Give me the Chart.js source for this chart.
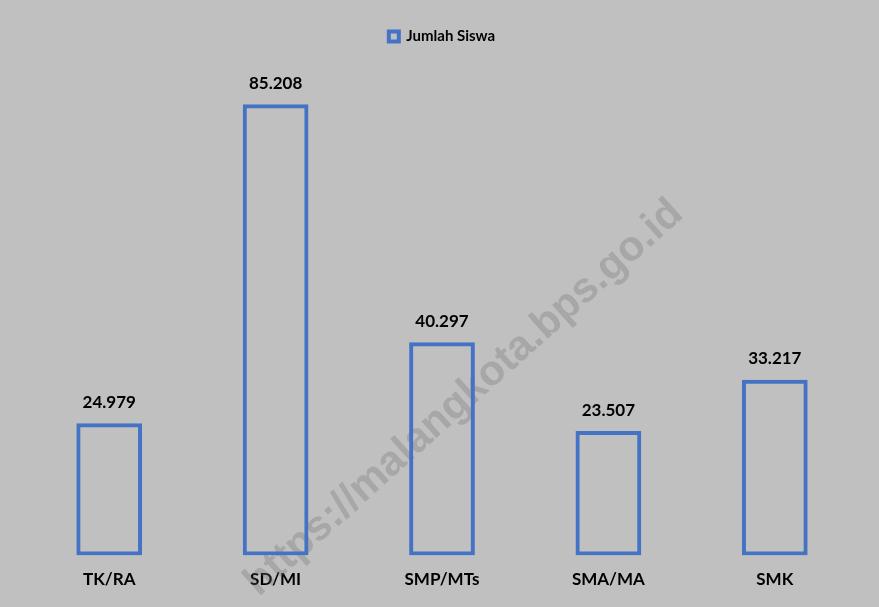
<!DOCTYPE html>
<html>
<head>
<meta charset="utf-8">
<script src="https://cdn.jsdelivr.net/npm/chart.js@4.4.0/dist/chart.umd.min.js"></script>
<style>
  html, body { margin: 0; padding: 0; background: #c0c0c0; }
  #wrap { width: 879px; height: 607px; position: relative; }
</style>
</head>
<body>
<div id="wrap"><canvas id="chart"></canvas></div>
<script>
// ── Data ──────────────────────────────────────────────────────────────────
const categories = ['TK/RA', 'SD/MI', 'SMP/MTs', 'SMA/MA', 'SMK'];
const siswa      = [24979, 85208, 40297, 23507, 33217];
const seriesName = 'Jumlah Siswa';

const BLUE = '#4472c4';
const FONT = 'Lato, "Open Sans", sans-serif';

// Thousands with a dot, Indonesian style
const fmt = v => v.toLocaleString('de-DE');

// Inline plugin: value labels above bars
const valueLabels = {
    id: 'valueLabels',
    afterDatasetsDraw(chart) {
        const { ctx } = chart;
        const meta = chart.getDatasetMeta(0);
        ctx.save();
        ctx.font = 'bold 17px ' + FONT;
        ctx.fillStyle = '#000';
        ctx.textAlign = 'center';
        ctx.textBaseline = 'middle';
        meta.data.forEach((bar, i) => {
            ctx.fillText(fmt(siswa[i]), bar.x, bar.y - 21);
        });
        ctx.restore();
    }
};

// Inline plugin: background and diagonal watermark (behind the bars)
const backdrop = {
    id: 'backdrop',
    beforeDraw(chart) {
        const { ctx, width, height } = chart;
        ctx.save();
        ctx.fillStyle = '#c0c0c0';
        ctx.fillRect(0, 0, width, height);
        ctx.restore();
    },
    beforeDatasetsDraw(chart) {
        const { ctx } = chart;
        ctx.save();
        ctx.translate(464, 398);
        ctx.rotate(-41.8 * Math.PI / 180);
        ctx.font = 'bold 42px "Liberation Sans", Arial, sans-serif';
        ctx.fillStyle = 'rgba(110,110,110,0.3)';
        ctx.textAlign = 'center';
        ctx.textBaseline = 'middle';
        ctx.fillText('https://malangkota.bps.go.id', 0, 0);
        ctx.restore();
    }
};

new Chart(document.getElementById('chart'), {
    type: 'bar',
    data: {
        labels: categories,
        datasets: [{
            label: seriesName,
            data: siswa,
            backgroundColor: 'rgba(0,0,0,0)',
            borderColor: BLUE,
            borderWidth: 4,
            borderSkipped: false,
            barPercentage: 0.395,
            categoryPercentage: 1
        }]
    },
    options: {
        responsive: true,
        maintainAspectRatio: false,
        animation: false,
        layout: { padding: { left: 26, right: 21, top: 0, bottom: 11 } },
        plugins: {
            legend: {
                display: true,
                position: 'top',
                labels: {
                    color: '#000',
                    font: { family: FONT, size: 15, weight: 'bold' },
                    boxWidth: 10,
                    boxHeight: 10,
                    padding: 29
                }
            },
            tooltip: { enabled: false }
        },
        scales: {
            x: {
                grid: { display: false },
                border: { display: false },
                ticks: {
                    color: '#000',
                    font: { family: FONT, size: 17, weight: 'bold' },
                    padding: 6
                }
            },
            y: {
                display: false,
                min: 0,
                max: 94700
            }
        }
    },
    plugins: [backdrop, valueLabels]
});
</script>
</body>
</html>
